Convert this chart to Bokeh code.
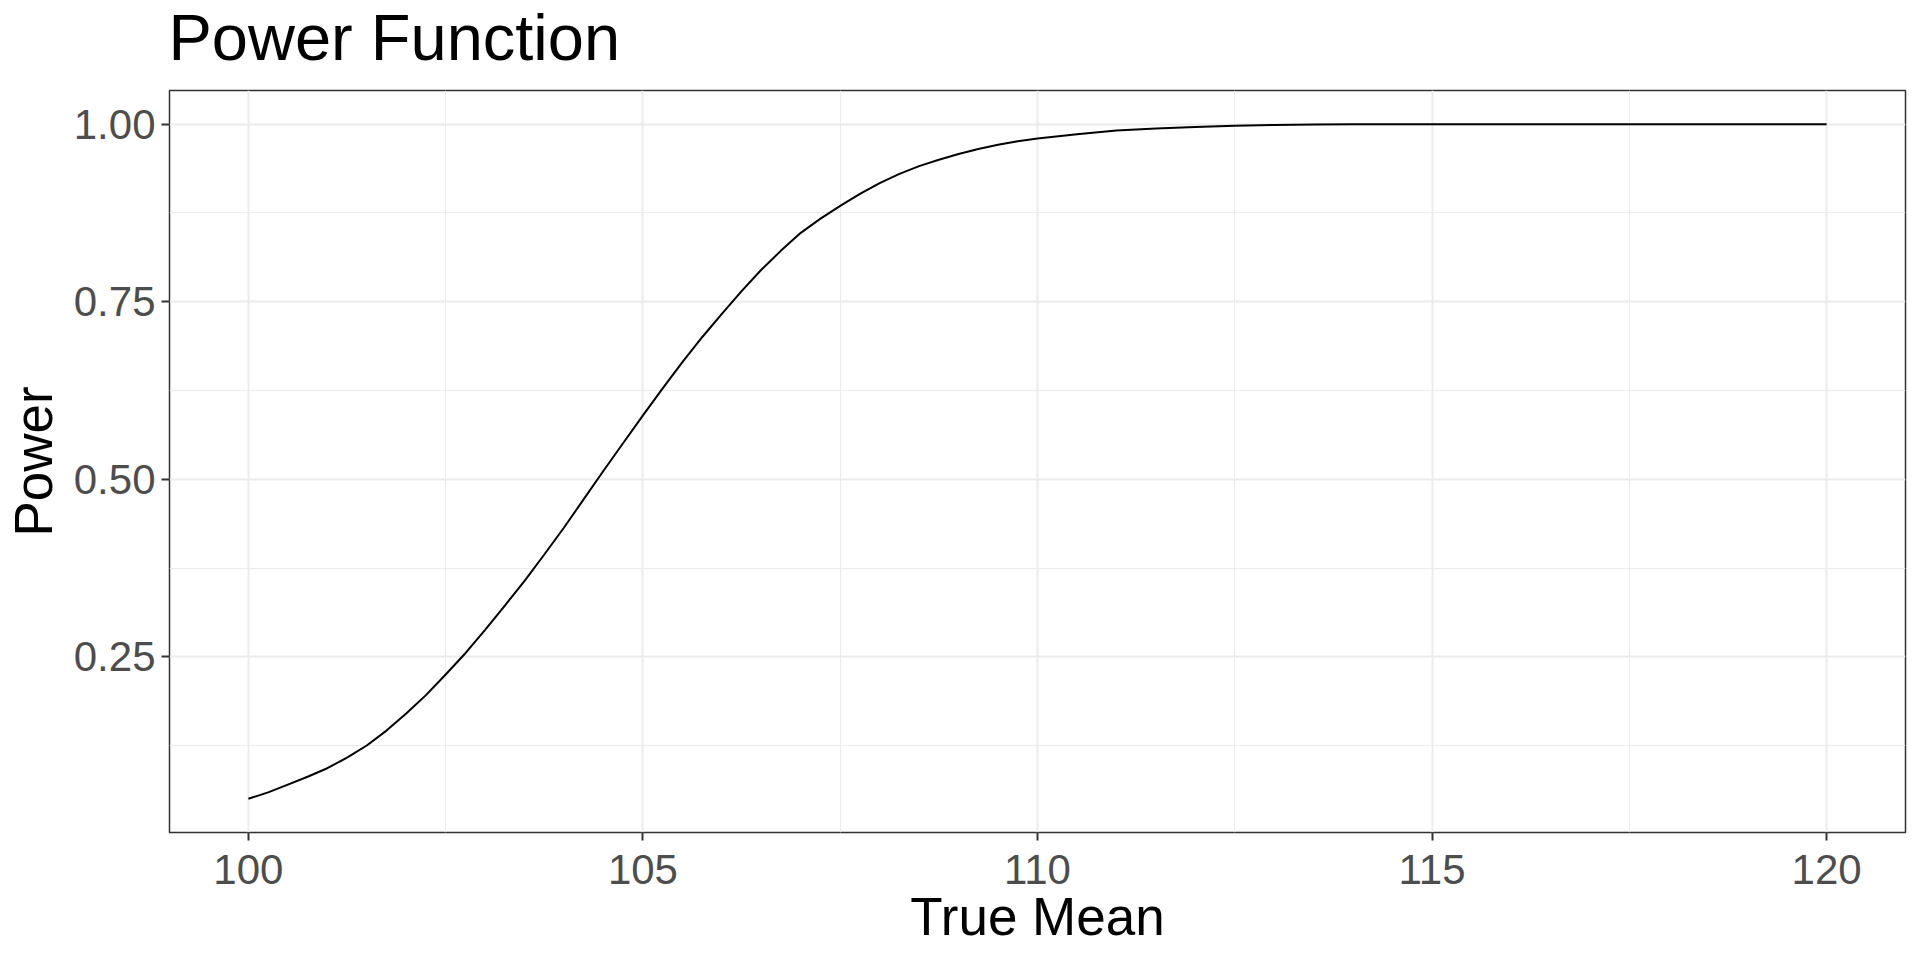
from bokeh.plotting import figure
from bokeh.models import Range1d, FixedTicker, PrintfTickFormatter, Label
from bokeh.embed import file_html
from bokeh.resources import INLINE

# ---- data ----
true_mean = [100.0, 100.25, 100.5, 100.75, 101.0, 101.25, 101.5, 101.75,
             102.0, 102.25, 102.5, 102.75, 103.0, 103.25, 103.5, 103.75,
             104.0, 104.25, 104.5, 104.75, 105.0, 105.25, 105.5, 105.75,
             106.0, 106.25, 106.5, 106.75, 107.0, 107.25, 107.5, 107.75,
             108.0, 108.25, 108.5, 108.75, 109.0, 109.25, 109.5, 109.75,
             110.0, 110.5, 111.0, 111.5, 112.0, 112.5, 113.0, 113.5,
             114.0, 115.0, 116.0, 117.0, 118.0, 119.0, 120.0]
power = [0.050, 0.059, 0.070, 0.081, 0.093, 0.108, 0.125, 0.146,
         0.170, 0.196, 0.225, 0.255, 0.288, 0.322, 0.357, 0.394,
         0.432, 0.472, 0.512, 0.551, 0.590, 0.628, 0.665, 0.700,
         0.733, 0.765, 0.795, 0.822, 0.847, 0.867, 0.885, 0.902,
         0.917, 0.930, 0.941, 0.950, 0.958, 0.965, 0.971, 0.976,
         0.980, 0.986, 0.991, 0.994, 0.996, 0.998, 0.999, 0.9995,
         1.000, 1.000, 1.000, 1.000, 1.000, 1.000, 1.000]
x_ticks = [100, 105, 110, 115, 120]
x_minor = [97.5, 102.5, 107.5, 112.5, 117.5, 122.5]
y_ticks = [0.25, 0.50, 0.75, 1.00]
y_minor = [0.125, 0.375, 0.625, 0.875]

title_text = "Power Function"
x_label = "True Mean"
y_label = "Power"

FONT = "Liberation Sans"
FRAME_W, FRAME_H = 1736, 742

p = figure(frame_width=FRAME_W, frame_height=FRAME_H,
           x_range=Range1d(99, 121), y_range=Range1d(0.0025, 1.0475),
           output_backend="svg", toolbar_location=None,
           min_border_left=165, min_border_right=3,
           min_border_top=90, min_border_bottom=112,
           background_fill_color="white", border_fill_color="white")

# plot title, placed in the area above the panel
p.add_layout(Label(x=-1, y=53, x_units="screen", y_units="screen",
                   text=title_text, text_font=FONT, text_font_size="65px",
                   text_color="black", text_align="left",
                   text_baseline="alphabetic"), "above")

p.outline_line_color = "#333333"
p.outline_line_width = 1.5

p.line(true_mean, power, line_color="black", line_width=2)

p.xaxis.ticker = FixedTicker(ticks=x_ticks, minor_ticks=x_minor)
p.yaxis.ticker = FixedTicker(ticks=y_ticks, minor_ticks=y_minor)
p.yaxis.formatter = PrintfTickFormatter(format="%.2f")

for ax in (p.xaxis[0], p.yaxis[0]):
    ax.axis_line_color = None
    ax.major_tick_line_color = "#333333"
    ax.major_tick_line_width = 2
    ax.major_tick_out = 8
    ax.major_tick_in = 0
    ax.minor_tick_line_color = None
    ax.major_label_text_font = FONT
    ax.major_label_text_font_size = "42px"
    ax.major_label_text_color = "#4D4D4D"
    ax.axis_label_text_font = FONT
    ax.axis_label_text_font_size = "53px"
    ax.axis_label_text_font_style = "normal"
    ax.axis_label_text_color = "black"

p.xaxis.axis_label = x_label
p.yaxis.axis_label = y_label
p.xaxis.major_label_standoff = 14
p.xaxis.axis_label_standoff = 0
p.yaxis.major_label_standoff = 6
p.yaxis.axis_label_standoff = 8

for g in (p.xgrid[0], p.ygrid[0]):
    g.grid_line_color = "#EBEBEB"
    g.grid_line_width = 2
    g.minor_grid_line_color = "#EBEBEB"
    g.minor_grid_line_width = 1

open("out.html", "w").write(file_html(p, INLINE))
